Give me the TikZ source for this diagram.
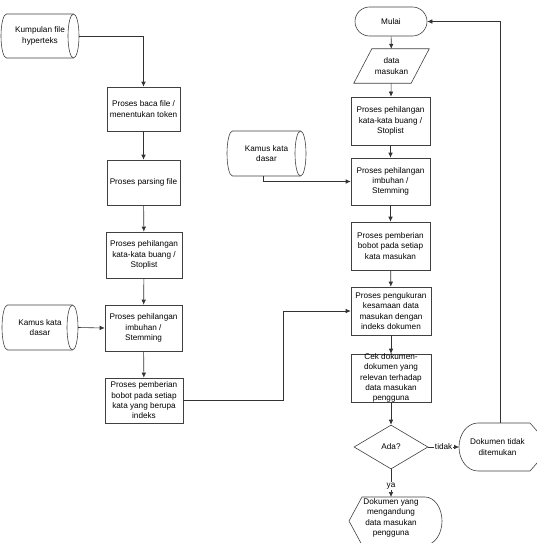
\documentclass[tikz,border=0pt]{standalone}
\usepackage{fontspec}
\setmainfont{Liberation Sans}
\usetikzlibrary{shapes.geometric,arrows.meta,calc}
\tikzset{
  proses/.style={draw=black!75, line width=0.6pt, minimum width=78pt, minimum height=46pt, align=center, inner sep=1pt},
  teks/.style={align=center, inner sep=1pt},
  garis/.style={draw=black!75, line width=0.6pt},
  panah/.style={draw=black!80, line width=0.6pt, -{Latex[length=5pt,width=4.5pt]}},
  ket/.style={fill=white, inner sep=1pt}
}
% tabung mendatar: #1 nama node, #2 setengah lebar, #3 setengah tinggi
\newcommand{\tabung}[3]{%
  \draw[garis] ($(#1)+(-#2+5.5,-#3)$) -- ($(#1)+(#2-5.5,-#3)$)
    arc[start angle=90, end angle=-90, x radius=5.5pt, y radius=#3pt]
    -- ($(#1)+(-#2+5.5,#3)$)
    arc[start angle=270, end angle=90, x radius=5.5pt, y radius=#3pt] -- cycle;
  \draw[garis] ($(#1)+(#2-5.5,-#3)$) arc[start angle=90, end angle=270, x radius=5.5pt, y radius=#3pt];
}
\begin{document}
\begin{tikzpicture}[x=1pt, y=-1pt, every node/.style={font=\fontsize{8.2}{10.3}\selectfont}]
  \useasboundingbox (0,0) rectangle (536,543);

  % kolom kiri: pengindeksan dokumen
  \node[teks, minimum width=78pt, minimum height=44pt] (hiper) at (40,36) {Kumpulan file\\hyperteks};
  \tabung{hiper}{39}{22}
  \node[proses, minimum width=73pt, minimum height=44pt] (baca) at (143.5,109) {Proses baca file /\\menentukan token};
  \node[proses, minimum width=73pt, minimum height=45pt] (parsing) at (143.5,182.5) {Proses parsing file};
  \node[proses, minimum width=76pt] (buang1) at (144,255) {Proses pehilangan\\kata-kata buang /\\Stoplist};
  \node[proses, minimum width=77pt] (stem1) at (143.5,328) {Proses pehilangan\\imbuhan /\\Stemming};
  \node[proses, minimum width=78pt, minimum height=45pt] (bobot1) at (144,400.5) {Proses pemberian\\bobot pada setiap\\kata yang berupa\\indeks};
  \node[teks, minimum width=76pt, minimum height=45pt] (kamus1) at (40,327.5) {Kamus kata\\dasar};
  \tabung{kamus1}{38}{22.5}

  \draw[panah] (hiper.east) -| (baca.north);
  \draw[panah] (baca) -- (parsing);
  \draw[panah] (parsing) -- (buang1);
  \draw[panah] (buang1) -- (stem1);
  \draw[panah] (stem1) -- (bobot1);
  \draw[panah] (kamus1.east) -- (stem1.west);

  % kolom kanan: pencarian
  \node[draw=black!75, line width=0.6pt, rounded corners=14.5pt, minimum width=72pt, minimum height=29pt] (mulai) at (391,21.5) {Mulai};
  \node[teks, minimum width=57pt, minimum height=34pt, inner sep=0pt] (data) at (391.5,66) {data\\masukan};
  \draw[garis] ([xshift=9pt]data.north west) -- ([xshift=9pt]data.north east) -- ([xshift=-9pt]data.south east) -- ([xshift=-9pt]data.south west) -- cycle;
  \node[proses, minimum width=79pt, minimum height=48pt] (buang2) at (390.5,121) {Proses pehilangan\\kata-kata buang /\\Stoplist};
  \node[proses, minimum width=79pt, minimum height=47pt] (stem2) at (390.5,181.5) {Proses pehilangan\\imbuhan /\\Stemming};
  \node[teks, minimum width=79pt, minimum height=45pt] (kamus2) at (266.5,153.5) {Kamus kata\\dasar};
  \tabung{kamus2}{39.5}{22.5}
  \node[proses, minimum width=79pt, minimum height=48pt] (bobot2) at (390.5,246) {Proses pemberian\\bobot pada setiap\\kata masukan};
  \node[proses, minimum width=80pt, minimum height=48pt] (ukur) at (391,311) {Proses pengukuran\\kesamaan data\\masukan dengan\\indeks dokumen};
  \node[proses, minimum width=80pt, minimum height=48pt] (cek) at (391,378) {};
  \node[teks] (cektxt) at (391,378) {Cek dokumen-\\dokumen yang\\relevan terhadap\\data masukan\\pengguna};
  \node[diamond, draw=black!75, line width=0.6pt, minimum width=74pt, minimum height=44pt, inner sep=0pt] (ada) at (391,447) {Ada?};

  % keluaran
  \node[teks] (tidakdok) at (497.5,447) {Dokumen tidak\\ditemukan};
  \draw[garis] ($(tidakdok)+(-19.5,-24)$) arc[start angle=90, end angle=270, x radius=19pt, y radius=24pt]
    -- ($(tidakdok)+(32.5,24)$) -- ($(tidakdok)+(53.5,0)$) -- ($(tidakdok)+(32.5,-24)$) -- cycle;
  \coordinate (tidakkiri) at (459,447);
  \coordinate (tidakatas) at (500.5,423);
  \node[teks] (adadok) at (391,518) {Dokumen yang\\mengandung\\data masukan\\pengguna};
  \draw[garis] ($(adadok)+(-29,-21)$) -- ($(adadok)+(34,-21)$) arc[start angle=90, end angle=-90, x radius=17pt, y radius=24pt]
    -- ($(adadok)+(-29,27)$) -- ($(adadok)+(-42,3)$) -- cycle;
  \coordinate (adaatas) at (391,497);

  \draw[panah] (mulai) -- (data);
  \draw[panah] (data) -- (buang2);
  \draw[panah] (buang2) -- (stem2);
  \draw[panah] ([xshift=-3.5pt]kamus2.south) |- (stem2.west);
  \draw[panah] (stem2) -- (bobot2);
  \draw[panah] (bobot2) -- (ukur);
  \draw[panah] (ukur) -- (cek);
  \draw[panah] (cek) -- (ada);
  \coordinate (belok) at (283,400.5);
  \draw[panah] (bobot1.east) -- (belok) |- (ukur.west);
  \draw[panah] (ada.east) -- node[ket] {tidak} (tidakkiri);
  \draw[panah] (ada.south) -- node[ket, pos=0.6] {ya} (adaatas);
  \draw[panah] (tidakatas) |- (mulai.east);
\end{tikzpicture}
\end{document}
